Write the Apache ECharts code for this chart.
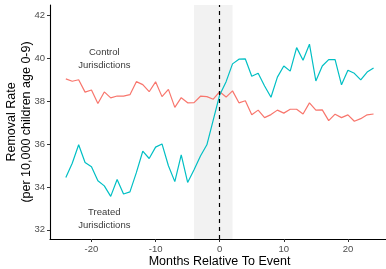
<!DOCTYPE html>
<html><head><meta charset="utf-8">
<script src="https://cdn.jsdelivr.net/npm/echarts@6/dist/echarts.min.js"></script>
<style>html,body{margin:0;padding:0;background:#fff}#c{width:386px;height:269px}</style>
</head><body><div id="c"></div>
<script>
var months = [];
for (var m = -24; m <= 24; m++) months.push(m);
var control = [39.05,38.94,39.01,38.43,38.53,37.90,38.44,38.16,38.25,38.24,38.31,38.92,38.78,38.45,38.91,38.22,38.56,37.72,38.17,37.93,37.94,38.24,38.22,38.10,38.45,38.20,38.49,37.93,38.03,37.37,37.59,37.24,37.38,37.59,37.45,37.63,37.63,37.41,37.93,37.59,37.60,37.10,37.40,37.24,37.37,37.07,37.19,37.37,37.41];
var treated = [34.44,35.11,35.97,35.14,34.95,34.29,34.05,33.56,34.35,33.67,33.77,34.67,35.67,35.33,35.86,36.01,34.99,34.25,35.50,34.21,34.80,35.45,35.97,37.13,38.30,38.92,39.75,39.97,39.98,39.17,39.31,38.72,38.19,39.13,39.65,39.41,40.51,39.92,40.67,38.95,39.65,39.95,39.95,38.77,39.45,39.31,39.00,39.37,39.56];
var xTicks = [-20,-10,0,10,20];
var yTicks = [32,34,36,38,40,42];
var window_ = [-4, 2];
var labels = [{x:-18, y:40, text:'Control\nJurisdictions'},{x:-18, y:32.5, text:'Treated\nJurisdictions'}];

function pairs(xs, ys){ return xs.map(function(x,i){return [x, ys[i]];}); }

var chart = echarts.init(document.getElementById('c'), null, {renderer:'canvas'});
var font = 'Liberation Sans, Arial, sans-serif';
chart.setOption({
  animation:false,
  grid:{left:50, right:0, top:5, bottom:30, containLabel:false},
  xAxis:{type:'value', min:-26.47, max:25.94,
    axisLine:{show:true, onZero:false, lineStyle:{color:'#000', width:1.1}},
    axisTick:{show:true, length:3, customValues:xTicks, lineStyle:{color:'#333'}},
    axisLabel:{customValues:xTicks, color:'#4d4d4d', fontSize:9.5, fontFamily:font, margin:5},
    splitLine:{show:false}},
  yAxis:{type:'value', min:31.57, max:42.5,
    axisLine:{show:true, onZero:false, lineStyle:{color:'#000', width:1.1}},
    axisTick:{show:true, length:3, customValues:yTicks, lineStyle:{color:'#333'}},
    axisLabel:{customValues:yTicks, color:'#4d4d4d', fontSize:9.5, fontFamily:font, margin:5},
    splitLine:{show:false}},
  graphic:[
    {type:'text', x:219.5, y:262, style:{text:'Months Relative To Event', fontSize:12.5, fontFamily:font, fill:'#000', align:'center', verticalAlign:'middle'}},
    {type:'text', x:5, y:122, rotation:Math.PI/2, style:{text:'Removal Rate', fontSize:12.5, fontFamily:font, fill:'#000', align:'center', verticalAlign:'top'}},
    {type:'text', x:20, y:122, rotation:Math.PI/2, style:{text:'(per 10,000 children age 0-9)', fontSize:12.5, fontFamily:font, fill:'#000', align:'center', verticalAlign:'top'}}
  ],
  series:[
    {type:'line', data:pairs(months, control), showSymbol:false, symbol:'none',
      lineStyle:{color:'#F8766D', width:1.2}, z:3,
      markArea:{silent:true, itemStyle:{color:'#f2f2f2'}, data:[[{xAxis:window_[0]},{xAxis:window_[1]}]]}},
    {type:'line', data:pairs(months, treated), showSymbol:false, symbol:'none',
      lineStyle:{color:'#00BFC4', width:1.2}, z:3,
      markLine:{silent:true, symbol:['none','none'], label:{show:false}, lineStyle:{color:'#000', type:[4,4], width:1.2}, data:[{xAxis:0}]}},
    {type:'scatter', symbolSize:0, data:labels.map(function(l){return {value:[l.x,l.y], label:{formatter:l.text}};}),
      label:{show:true, position:'inside', color:'#000', fontSize:9.5, fontFamily:font, lineHeight:13, align:'center', verticalAlign:'middle'}}
  ]
});
</script></body></html>
